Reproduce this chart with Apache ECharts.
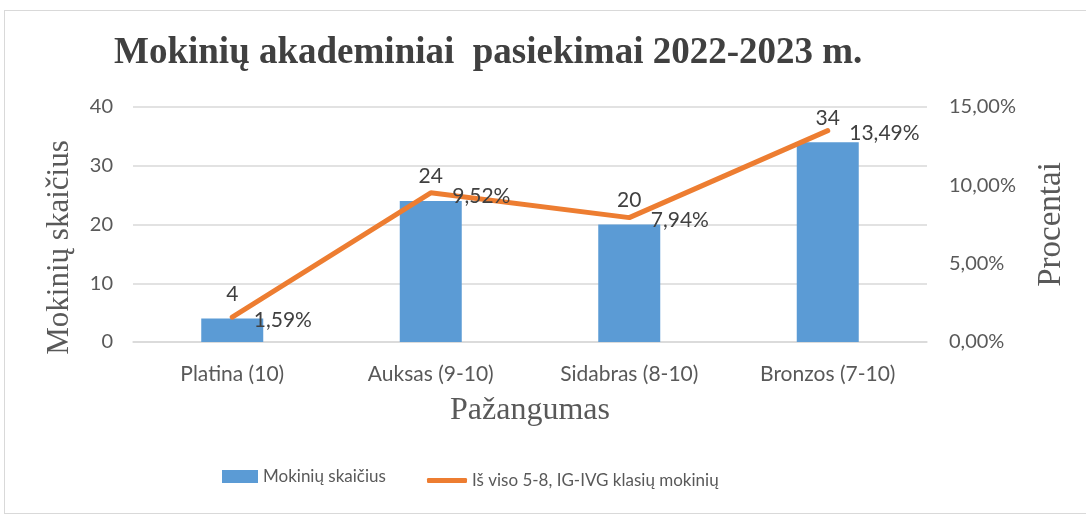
<!DOCTYPE html>
<html>
<head>
<meta charset="utf-8">
<script src="https://cdn.jsdelivr.net/npm/echarts@6/dist/echarts.min.js"></script>
<style>
  html, body { margin: 0; padding: 0; background: #fff; }
  #frame { position: absolute; left: 4px; top: 10px; width: 1090px; height: 504px; border: 1px solid #d9d9d9; box-sizing: border-box; }
  #chart { position: absolute; left: 0; top: 0; width: 1086px; height: 519px; }
</style>
</head>
<body>
<div id="frame"></div>
<div id="chart"></div>
<script>
// duomenys
var categories = ['Platina (10)', 'Auksas (9-10)', 'Sidabras (8-10)', 'Bronzos (7-10)'];
var studentCounts = [4, 24, 20, 34];
var percentages = [1.59, 9.52, 7.94, 13.49];
var barName = 'Mokinių skaičius';
var lineName = 'Iš viso 5-8, IG-IVG klasių mokinių';

var labelFont = 'Lato, "Open Sans", sans-serif';
var serif = '"Liberation Serif", "DejaVu Serif", serif';

function pct(v) {
  return v.toFixed(2).replace('.', ',') + '%';
}

var myChart = echarts.init(document.getElementById('chart'));
myChart.setOption({
  animation: false,
  title: {
    text: 'Mokinių akademiniai  pasiekimai 2022-2023 m.',
    left: 109,
    top: 30,
    textStyle: { fontFamily: serif, fontWeight: 'bold', fontSize: 37, color: '#404040' }
  },
  legend: [
    {
      data: [{ name: barName, icon: 'rect' }],
      left: 217, top: 463,
      itemWidth: 36, itemHeight: 13,
      textStyle: { fontFamily: labelFont, fontSize: 17, color: '#595959' }
    },
    {
      data: [{ name: lineName, icon: 'roundRect' }],
      left: 422, top: 467,
      itemWidth: 40, itemHeight: 5,
      textStyle: { fontFamily: labelFont, fontSize: 17, color: '#595959' }
    }
  ],
  grid: { left: 133, right: 159, top: 107, bottom: 177 },
  xAxis: {
    type: 'category',
    data: categories,
    name: 'Pažangumas',
    nameLocation: 'middle',
    nameGap: 53,
    nameTextStyle: { fontFamily: serif, fontSize: 32, color: '#595959' },
    axisLine: { lineStyle: { color: '#d9d9d9', width: 1.5 } },
    axisTick: { show: false },
    axisLabel: { fontFamily: labelFont, fontSize: 21, color: '#595959', margin: 22 }
  },
  yAxis: [
    {
      type: 'value',
      min: 0, max: 40, interval: 10,
      name: 'Mokinių skaičius',
      nameLocation: 'middle',
      nameGap: 58,
      nameRotate: 90,
      nameTextStyle: { fontFamily: serif, fontSize: 31, color: '#595959', padding: [0, 46, 0, 0] },
      axisLine: { show: false },
      axisTick: { show: false },
      axisLabel: { fontFamily: labelFont, fontSize: 20, color: '#595959', margin: 20 },
      splitLine: { lineStyle: { color: '#d9d9d9', width: 1.5 } }
    },
    {
      type: 'value',
      min: 0, max: 15, interval: 5,
      name: 'Procentai',
      nameLocation: 'middle',
      nameGap: 108,
      nameRotate: 90,
      nameTextStyle: { fontFamily: serif, fontSize: 33, color: '#595959' },
      axisLine: { show: false },
      axisTick: { show: false },
      axisLabel: { fontFamily: labelFont, fontSize: 20, color: '#595959', margin: 22, formatter: pct },
      splitLine: { show: false }
    }
  ],
  series: [
    {
      name: barName,
      type: 'bar',
      data: studentCounts,
      barWidth: 62,
      itemStyle: { color: '#5b9bd5' },
      label: {
        show: true, position: 'top', distance: 14,
        fontFamily: labelFont, fontSize: 21, color: '#404040'
      }
    },
    {
      name: lineName,
      type: 'line',
      yAxisIndex: 1,
      data: percentages,
      symbol: 'circle',
      symbolSize: 1,
      showSymbol: true,
      itemStyle: { color: '#ed7d31' },
      lineStyle: { color: '#ed7d31', width: 5, cap: 'round' },
      label: {
        show: true, position: 'right', distance: 21,
        fontFamily: labelFont, fontSize: 21, color: '#404040',
        offset: [0, 3],
        formatter: function (p) { return pct(p.value); }
      }
    }
  ]
});
</script>
</body>
</html>
